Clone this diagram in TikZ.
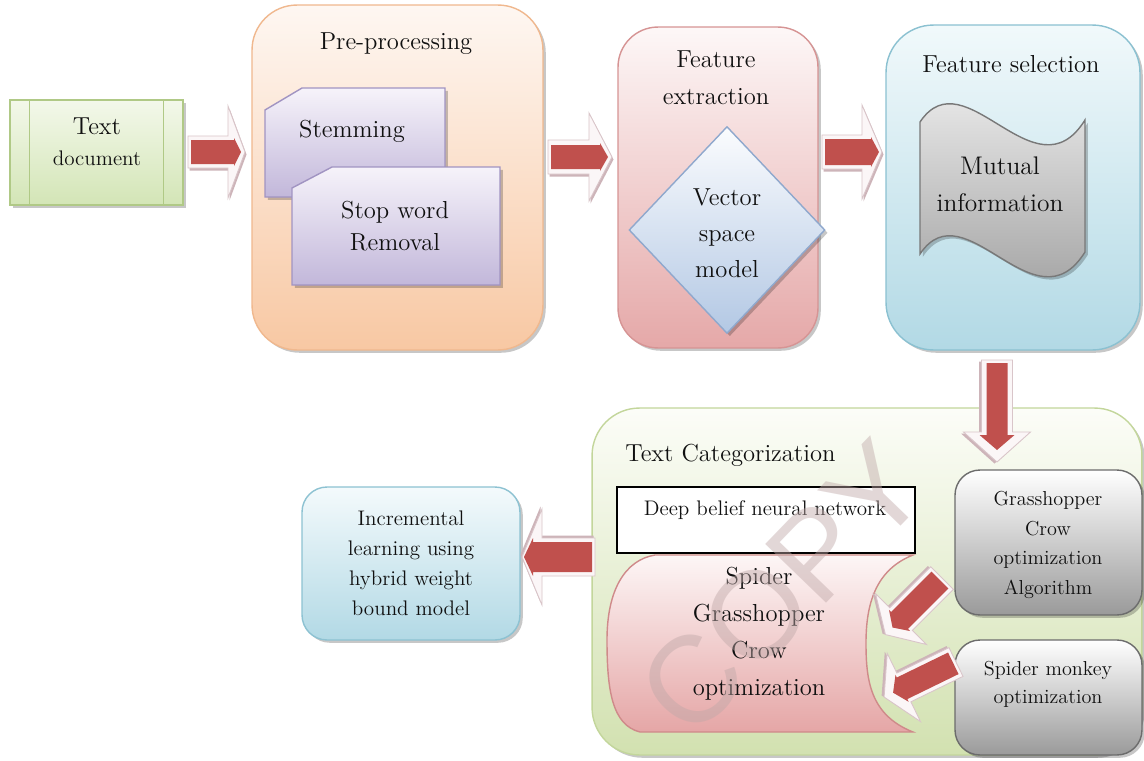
\documentclass[tikz,border=0pt]{standalone}
\usepackage{fontspec}
\newfontfamily\wmfont{Liberation Sans}
\usetikzlibrary{shapes.geometric,shadows}

% palette
\definecolor{ink}{HTML}{101010}
\definecolor{tdTop}{HTML}{F3F8EA}\definecolor{tdBot}{HTML}{D3E5B6}\definecolor{tdLine}{HTML}{B0C986}
\definecolor{preTop}{HTML}{FEF7F2}\definecolor{preBot}{HTML}{F8C8A3}\definecolor{preLine}{HTML}{F0B88E}
\definecolor{lavTop}{HTML}{F6F3FA}\definecolor{lavBot}{HTML}{C2B7DA}\definecolor{lavLine}{HTML}{A194C2}
\definecolor{fexTop}{HTML}{FDF7F7}\definecolor{fexBot}{HTML}{E5A8A8}\definecolor{fexLine}{HTML}{D69494}
\definecolor{diaTop}{HTML}{FBFCFE}\definecolor{diaBot}{HTML}{B3C8E4}\definecolor{diaLine}{HTML}{8FA8CD}
\definecolor{fsTop}{HTML}{F1F9FB}\definecolor{fsBot}{HTML}{B2D9E5}\definecolor{fsLine}{HTML}{8BC1D1}
\definecolor{tapeTop}{HTML}{F4F4F4}\definecolor{tapeBot}{HTML}{979797}\definecolor{tapeLine}{HTML}{787878}
\definecolor{tcTop}{HTML}{FCFDF8}\definecolor{tcBot}{HTML}{D2E1B0}\definecolor{tcLine}{HTML}{C3D69B}
\definecolor{pinkTop}{HTML}{FDF6F6}\definecolor{pinkBot}{HTML}{E5A6A6}\definecolor{pinkLine}{HTML}{CF8A8A}
\definecolor{grayTop}{HTML}{FFFFFF}\definecolor{grayBot}{HTML}{9A9A9A}\definecolor{grayLine}{HTML}{6C6C6C}
\definecolor{incTop}{HTML}{F4FAFC}\definecolor{incBot}{HTML}{B2D9E5}\definecolor{incLine}{HTML}{8DC2D2}
\definecolor{arRed}{HTML}{C0504D}\definecolor{arLight}{HTML}{FBF6F7}\definecolor{arEdge}{HTML}{D9C5C9}
\definecolor{arShade}{HTML}{CDB4B9}\definecolor{wmColor}{HTML}{BFA8A8}

\tikzset{
  softshadow/.style={drop shadow={shadow xshift=1.6pt,shadow yshift=-1.6pt,fill=black,opacity=.22}},
  panel/.style={shape=rectangle,inner sep=0pt,line width=0.8pt,softshadow},
  lbl/.style={align=center,text=ink,inner sep=0pt,font=\fontsize{14}{21}\selectfont},
  arrowlight/.style={fill=arLight,draw=arEdge,line width=0.5pt},
  arrowshade/.style={fill=arShade},
  arrowred/.style={fill=arRed},
  % block arrow pointing along local +x:
  % #1 length, #2 head length, #3 body half-width, #4 head half-width,
  % #5 red body half-width, #6 red head half-width, #7 red head base, #8 red tip
  pics/blockarrow/.style n args={8}{code={
    \begin{scope}[shift={(1.5,2.5)}]
      \fill[arrowshade] (0,-#3) -- ({#1-#2},-#3) -- ({#1-#2},-#4) -- (#1,0)
        -- ({#1-#2},#4) -- ({#1-#2},#3) -- (0,#3) -- cycle;
    \end{scope}
    \filldraw[arrowlight] (0,-#3) -- ({#1-#2},-#3) -- ({#1-#2},-#4) -- (#1,0)
      -- ({#1-#2},#4) -- ({#1-#2},#3) -- (0,#3) -- cycle;
    \fill[arrowred] (3,-#5) -- (#7,-#5) -- (#7,-#6) -- (#8,0)
      -- (#7,#6) -- (#7,#5) -- (3,#5) -- cycle;
  }}
}

\begin{document}
\begin{tikzpicture}[x=0.02cm,y=-0.02cm]
\useasboundingbox (0,0) rectangle (1144,761);
\fill[white] (0,0) rectangle (1144,761);

% ---------- Text document (predefined process) ----------
\node[panel,minimum width=3.46cm,minimum height=2.1cm,
      top color=tdTop,bottom color=tdBot,draw=tdLine] (doc) at (96.5,152.5) {};
\draw[tdLine,line width=0.8pt] ([xshift=0.4cm]doc.north west) -- ([xshift=0.4cm]doc.south west);
\draw[tdLine,line width=0.8pt] ([xshift=-0.4cm]doc.north east) -- ([xshift=-0.4cm]doc.south east);
\node[lbl] (docA) at (97,126) {Text};
\node[lbl,font=\fontsize{12}{16}\selectfont] (docB) at (97,158) {document};

% ---------- Pre-processing ----------
\node[panel,minimum width=5.82cm,minimum height=6.9cm,rounded corners=0.9cm,
      top color=preTop,bottom color=preBot,draw=preLine] (pre) at (397.5,177.5) {};
\node[lbl] (preT) at (396,44) {Pre-processing};
\path[softshadow,top color=lavTop,bottom color=lavBot,draw=lavLine,line width=0.8pt]
  (302,88) -- (445,88) -- (445,197) -- (265,197) -- (265,110) -- cycle;
\node[lbl] (stem) at (352,131) {Stemming};
\path[softshadow,top color=lavTop,bottom color=lavBot,draw=lavLine,line width=0.8pt]
  (332,167) -- (500,167) -- (500,285) -- (292,285) -- (292,188) -- cycle;
\node[lbl,font=\fontsize{14}{18}\selectfont] (stop) at (395,226) {Stop word\\Removal};

% ---------- Feature extraction ----------
\node[panel,minimum width=4cm,minimum height=6.42cm,rounded corners=0.8cm,
      top color=fexTop,bottom color=fexBot,draw=fexLine] (fex) at (718,187.5) {};
\node[lbl] (fexT) at (716,78) {Feature\\extraction};
\node[diamond,minimum width=3.92cm,minimum height=4.14cm,inner sep=0pt,line width=0.8pt,
      top color=diaTop,bottom color=diaBot,draw=diaLine,softshadow] (vsm) at (727,230) {};
\node[lbl,font=\fontsize{14}{20.5}\selectfont] (vsmT) at (727,233) {Vector\\space\\model};

% ---------- Feature selection ----------
\node[panel,minimum width=5.08cm,minimum height=6.5cm,rounded corners=0.95cm,
      top color=fsTop,bottom color=fsBot,draw=fsLine] (fsel) at (1013,187.5) {};
\node[lbl] (fselT) at (1011,64) {Feature selection};
\path[softshadow,top color=tapeTop,bottom color=tapeBot,draw=tapeLine,line width=0.8pt]
  (920,122) .. controls (965,55) and (1035,200) .. (1085,120)
  -- (1085,252) .. controls (1035,332) and (965,187) .. (920,254) -- cycle;
\node[lbl,font=\fontsize{14.5}{21}\selectfont] (mi) at (1000,184) {Mutual\\information};

% ---------- Text Categorization ----------
\node[panel,minimum width=11cm,minimum height=6.94cm,rounded corners=0.95cm,
      top color=tcTop,bottom color=tcBot,draw=tcLine] (tc) at (867,581.5) {};
\node[lbl,anchor=west] (tcT) at (625,455) {Text Categorization};
\path[top color=pinkTop,bottom color=pinkBot,draw=pinkLine,line width=0.8pt]
  (913,555) -- (655,555) .. controls (625,560) and (607,590) .. (607,640)
  .. controls (607,690) and (612,725) .. (640,732) -- (913,732)
  .. controls (870,715) and (866,680) .. (866,643)
  .. controls (866,605) and (875,570) .. (913,555) -- cycle;
\node[lbl] (sgc) at (759,634) {Spider\\Grasshopper\\Crow\\optimization};
\node[shape=rectangle,minimum width=5.96cm,minimum height=1.32cm,inner sep=0pt,
      fill=white,draw=black,line width=0.8pt] (dbn) at (766,520) {};
\node[lbl,font=\fontsize{12}{14}\selectfont] (dbnT) at (765,510) {Deep belief neural network};

\node[panel,minimum width=3.74cm,minimum height=2.9cm,rounded corners=0.5cm,
      top color=grayTop,bottom color=grayBot,draw=grayLine] (gco) at (1048.5,542.5) {};
\node[lbl,font=\fontsize{11.5}{17}\selectfont] (gcoT) at (1048,545) {Grasshopper\\Crow\\optimization\\Algorithm};
\node[panel,minimum width=3.74cm,minimum height=2.3cm,rounded corners=0.5cm,
      top color=grayTop,bottom color=grayBot,draw=grayLine] (smo) at (1048.5,697.5) {};
\node[lbl,font=\fontsize{11.5}{16}\selectfont] (smoT) at (1048,684) {Spider monkey\\optimization};

% ---------- Incremental learning ----------
\node[panel,minimum width=4.36cm,minimum height=3.06cm,rounded corners=0.5cm,
      top color=incTop,bottom color=incBot,draw=incLine] (inc) at (411,563.5) {};
\node[lbl,font=\fontsize{12}{17}\selectfont] (incT) at (411,563) {Incremental\\learning using\\hybrid weight\\bound model};

% ---------- block arrows ----------
\coordinate (a1) at (188,152);
\coordinate (a2) at (548,157);
\coordinate (a3) at (822,152);
\coordinate (a4) at (997,360);
\coordinate (a5) at (595,557);
\coordinate (a6) at (942,578);
\coordinate (a7) at (956,662);
\pic at (a1) {blockarrow={57}{17}{16}{46}{12}{14}{46}{53}};
\pic at (a2) {blockarrow={64}{23}{17}{44}{12}{14}{52}{60}};
\pic at (a3) {blockarrow={60}{20}{17}{47}{13}{15}{49}{57}};
\pic[rotate=-90] at (a4) {blockarrow={102}{30}{15.5}{33.5}{10.5}{17.5}{75}{90}};
\pic[rotate=180] at (a5) {blockarrow={73}{20}{19}{48}{15}{19}{62}{71}};
\pic[rotate=225] at (a6) {blockarrow={80}{22}{16}{36}{12}{15}{60}{70}};
\pic[rotate=206] at (a7) {blockarrow={80}{22}{16}{38}{12}{15}{60}{70}};

% ---------- watermark ----------
\node[font=\wmfont\fontsize{70}{70}\selectfont,text=wmColor,opacity=0.45,rotate=46,inner sep=0pt]
  (wm) at (782,588) {COPY};
\end{tikzpicture}
\end{document}
